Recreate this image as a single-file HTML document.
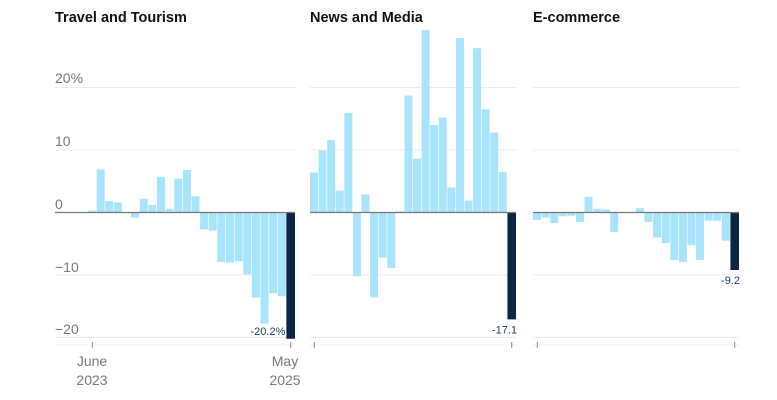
<!DOCTYPE html>
<html><head><meta charset="utf-8"><style>
body{margin:0;background:#fff;}
svg{display:block;font-family:"Liberation Sans",sans-serif;}
</style></head><body>
<svg id="s" width="777" height="400" viewBox="0 0 777 400">
<text x="55" y="22" font-size="14.5" font-weight="bold" fill="#111">Travel and Tourism</text>
<text x="310" y="22" font-size="14.5" font-weight="bold" fill="#111">News and Media</text>
<text x="533" y="22" font-size="14.5" font-weight="bold" fill="#111">E-commerce</text>
<g font-size="14" fill="#777">
<text x="55" y="83">20%</text>
<text x="55" y="146">10</text>
<text x="55" y="209">0</text>
<text x="55" y="272">−10</text>
<text x="55" y="334">−20</text>
</g>
<g font-size="14" fill="#777" text-anchor="middle">
<text x="92" y="366">June</text><text x="92" y="385">2023</text>
<text x="285" y="366">May</text><text x="285" y="385">2025</text>
</g>
<g id="g"></g>
</svg>
<script>
var ns="http://www.w3.org/2000/svg",g=document.getElementById('g');
function el(t,a){var e=document.createElementNS(ns,t);for(var k in a)e.setAttribute(k,a[k]);g.appendChild(e);return e;}
var panels=[
 {gx:55,x0:88,x1:295,lbl:"-20.2%",v:[0.3,6.9,1.8,1.6,0,-0.8,2.2,1.2,5.7,0.6,5.4,6.8,2.6,-2.7,-2.9,-7.9,-8,-7.8,-9.9,-13.6,-17.8,-12.9,-13.4,-20.2]},
 {gx:310,x0:310,x1:516,lbl:"-17.1",v:[6.4,9.9,11.6,3.5,15.9,-10.2,2.9,-13.6,-7.2,-8.9,0.2,18.7,8.6,29.2,14,15.2,4,27.9,1.9,26.3,16.5,12.8,6.5,-17.1]},
 {gx:533,x0:533,x1:739,lbl:"-9.2",v:[-1.2,-0.8,-1.7,-0.6,-0.5,-1.5,2.5,0.6,0.5,-3.1,0,0,0.7,-1.5,-4,-4.9,-7.6,-7.9,-5.2,-7.6,-1.3,-1.3,-4.5,-9.2]}
];
function Y(v){return 212.5-v*6.25;}
panels.forEach(function(p,pi){
 [20,10,-10,-20].forEach(function(t){el('line',{x1:p.gx,x2:p.x1,y1:Y(t),y2:Y(t),stroke:'#ececec','stroke-width':1});});
 el('line',{x1:p.gx,x2:p.x1,y1:345,y2:345,stroke:'#ececec','stroke-width':1});
 var w=(p.x1-p.x0)/24;
 el('line',{x1:p.x0+w/2,x2:p.x0+w/2,y1:342,y2:348,stroke:'#888','stroke-width':1});
 el('line',{x1:p.x1-w/2,x2:p.x1-w/2,y1:342,y2:348,stroke:'#888','stroke-width':1});
 p.v.forEach(function(v,i){
  var last=i==23,y=Math.min(Y(v),Y(0)),h=Math.abs(v)*6.25;
  el('rect',{x:p.x0+i*w,y:y,width:w-(last?0:0.6),height:h,fill:last?'#0b2545':'#a8e4fc'});
 });
 el('line',{x1:p.x0-(p.gx==55?33:0),x2:p.x1,y1:Y(0),y2:Y(0),stroke:'#777','stroke-width':1.2});
 var lv=p.v[23],t;
 if(pi==0) t=el('text',{x:p.x1-w-1,y:335,'font-size':11,fill:'#1c3a66','text-anchor':'end'});
 else t=el('text',{x:p.x1+1,y:Y(lv)+14,'font-size':11,fill:'#1c3a66','text-anchor':'end'});
 t.textContent=p.lbl;
});
</script>
</body></html>
